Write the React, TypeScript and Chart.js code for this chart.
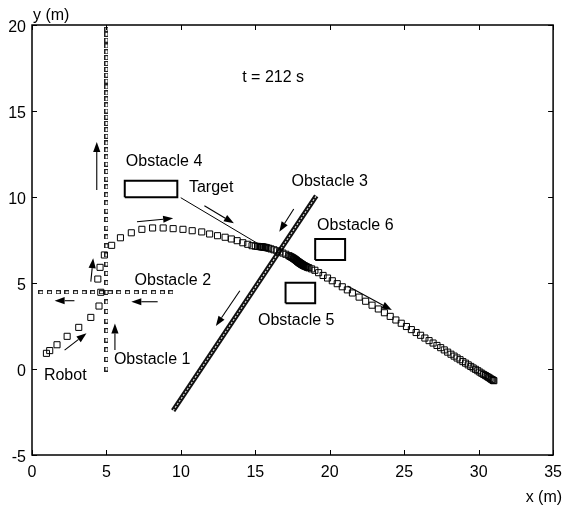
import React, { useEffect, useRef } from 'react';
import { Chart, registerables } from 'chart.js';

Chart.register(...registerables);

// ---- axes ----
const xMin = 0, xMax = 35, xStep = 5;
const yMin = -5, yMax = 20, yStep = 5;
const xTitle = 'x (m)';
const yTitle = 'y (m)';
const timeLabel = 't = 212 s';

// ---- robot trajectory (big squares) ----
const robotX = [0.97, 1.19, 1.68, 2.36, 3.14, 3.95, 4.5, 4.62, 4.42, 4.57, 4.86, 5.35, 5.94, 6.67, 7.38, 8.1, 8.81, 9.48, 10.14, 10.76, 11.4, 11.93, 12.46, 12.97, 13.39, 13.78, 14.16, 14.49, 14.78,
  15.0, 15.15, 15.27, 15.35, 15.41, 15.47, 15.53, 15.6, 15.68, 15.77, 15.9, 16.05, 16.25, 16.45, 16.65, 16.85, 17.05, 17.25, 17.33, 17.4, 17.46, 17.52, 17.57, 17.62, 17.67, 17.72, 17.76, 17.8, 17.84, 17.88,
  17.92, 17.95, 17.99, 18.02, 18.06, 18.09, 18.13, 18.16, 18.2, 18.24, 18.28, 18.33, 18.39, 18.45, 18.52, 18.6, 18.78,
  19.0, 19.25, 19.55, 19.85, 20.17, 20.5, 20.84, 21.18, 21.52, 21.97, 22.41, 22.84, 23.26, 23.67, 24.06, 24.44, 24.8, 25.15, 25.48, 25.8, 26.1, 26.39, 26.67, 26.94, 27.2, 27.45, 27.69, 27.92, 28.14,
  28.35, 28.55, 28.75, 28.94, 29.12, 29.3, 29.47, 29.63, 29.79, 29.94, 30.08, 30.21, 30.34, 30.46, 30.57, 30.67, 30.76, 30.84, 30.91, 30.97, 31.02];
const robotY = [0.91, 1.07, 1.41, 1.9, 2.42, 3.0, 3.66, 4.46, 5.23, 5.91, 6.63, 7.19, 7.63, 7.92, 8.12, 8.2, 8.2, 8.16, 8.12, 8.04, 7.97, 7.85, 7.75, 7.66, 7.56, 7.46, 7.34, 7.25, 7.17,
  7.14, 7.13, 7.12, 7.11, 7.1, 7.1, 7.09, 7.08, 7.07, 7.05, 7.02, 6.98, 6.93, 6.87, 6.81, 6.74, 6.67, 6.59, 6.55, 6.52, 6.49, 6.46, 6.43, 6.4, 6.37, 6.34, 6.31, 6.28, 6.25, 6.23,
  6.2, 6.18, 6.16, 6.14, 6.12, 6.1, 6.08, 6.06, 6.04, 6.02, 6.0, 5.98, 5.96, 5.93, 5.9, 5.88, 5.82,
  5.74, 5.6, 5.44, 5.29, 5.13, 4.96, 4.78, 4.6, 4.42, 4.18, 3.94, 3.71, 3.49, 3.27, 3.06, 2.85, 2.66, 2.47, 2.29, 2.12, 1.96, 1.8, 1.65, 1.51, 1.37, 1.24, 1.11, 0.98, 0.86,
  0.75, 0.64, 0.54, 0.43, 0.34, 0.24, 0.15, 0.06, -0.02, -0.1, -0.18, -0.25, -0.32, -0.38, -0.44, -0.49, -0.54, -0.59, -0.62, -0.66, -0.68];

// ---- obstacle 1 (vertical, x = 5) ----
const obs1X = 5;
const obs1Y = [0, 0.56, 1.12, 1.68, 2.23, 2.79, 3.35, 3.9, 4.46, 5.02, 5.56, 6.1, 6.63, 7.16, 7.68, 8.19, 8.69, 9.18, 9.66, 10.13, 10.59, 11.04, 11.48, 11.91, 12.33, 12.74, 13.14, 13.53, 13.91, 14.28, 14.64, 15.0, 15.35, 15.7, 16.05, 16.4, 16.74, 17.08, 17.42, 17.76, 18.1, 18.44, 18.78, 19.12, 19.46, 19.75];

// ---- obstacle 2 (horizontal, y = 4.46) ----
const obs2Y = 4.46;
const obs2X = [0.6, 1.18, 1.76, 2.35, 2.93, 3.5, 4.08, 4.67, 5.25, 5.83, 6.42, 7.0, 7.58, 8.17, 8.75, 9.33];

// ---- obstacle 3 (diagonal track) ----
const obs3X = [9.48, 19.09];
const obs3Y = [-2.42, 10.06];

// ---- rectangular obstacles [x0, x1, y0, y1] ----
const obs4Box = [6.23, 9.76, 9.98, 10.95];
const obs5Box = [17.03, 19.02, 3.82, 5.02];
const obs6Box = [19.02, 21.03, 6.34, 7.56];

// ---- target pointer line ----
const targetLineX = [9.99, 15.33];
const targetLineY = [9.96, 7.21];

// ---- arrows ----
const arrowFromX = [2.19, 3.95, 2.85, 8.44, 5.57, 4.35, 7.05, 11.58, 17.58, 13.96, 21.19];
const arrowFromY = [1.1, 5.08, 3.97, 3.91, 1.1, 10.41, 8.56, 9.49, 9.3, 4.55, 4.83];
const arrowToX = [3.66, 4.11, 1.52, 6.67, 5.57, 4.35, 9.48, 13.56, 16.61, 12.35, 24.17];
const arrowToY = [2.08, 6.44, 3.97, 3.91, 2.65, 13.2, 8.76, 8.47, 7.98, 2.5, 3.43];

// ---- text labels ----
const labelTexts = ['Obstacle 4', 'Target', 'Obstacle 3', 'Obstacle 6', 'Obstacle 2', 'Obstacle 5', 'Obstacle 1', 'Robot'];
const labelX = [6.3, 10.54, 17.43, 19.15, 6.89, 15.18, 5.5, 0.8];
const labelY = [12.03, 10.52, 10.87, 8.31, 5.12, 2.79, 0.52, -0.41];
const timeLabelPos = [14.12, 16.92];

const FONT = '16px "Liberation Sans", Arial, Helvetica, sans-serif';

function boxPoly(b: number[]) {
  return [
    { x: b[0], y: b[2] }, { x: b[1], y: b[2] }, { x: b[1], y: b[3] }, { x: b[0], y: b[3] }, { x: b[0], y: b[2] },
  ];
}

function rectImage(w: number, h: number) {
  const c = document.createElement('canvas');
  c.width = w; c.height = h;
  const g = c.getContext('2d')!;
  g.strokeStyle = '#222';
  g.lineWidth = 1;
  g.strokeRect(0.5, 0.5, w - 1, h - 1);
  return c;
}

const overlay = {
  id: 'overlay',
  afterDatasetsDraw(chart: any) {
    const { ctx, chartArea: a, scales } = chart;
    const sx = scales.x, sy = scales.y;
    ctx.save();
    // arrows
    ctx.strokeStyle = '#000';
    ctx.fillStyle = '#000';
    ctx.lineWidth = 1.1;
    for (let i = 0; i < arrowFromX.length; i++) {
      const x1 = sx.getPixelForValue(arrowFromX[i]);
      const y1 = sy.getPixelForValue(arrowFromY[i]);
      const x2 = sx.getPixelForValue(arrowToX[i]);
      const y2 = sy.getPixelForValue(arrowToY[i]);
      const ang = Math.atan2(y2 - y1, x2 - x1);
      const hl = 10, hw = 3.6;
      const c = Math.cos(ang), s = Math.sin(ang);
      const bx = x2 - hl * c, by = y2 - hl * s;
      ctx.beginPath();
      ctx.moveTo(x1, y1);
      ctx.lineTo(bx, by);
      ctx.stroke();
      ctx.beginPath();
      ctx.moveTo(x2, y2);
      ctx.lineTo(bx - hw * s, by + hw * c);
      ctx.lineTo(bx + hw * s, by - hw * c);
      ctx.closePath();
      ctx.fill();
    }
    // labels
    ctx.font = FONT;
    ctx.fillStyle = '#000';
    ctx.textAlign = 'left';
    ctx.textBaseline = 'middle';
    for (let i = 0; i < labelTexts.length; i++) {
      ctx.fillText(labelTexts[i], sx.getPixelForValue(labelX[i]), sy.getPixelForValue(labelY[i]));
    }
    ctx.fillText(timeLabel, sx.getPixelForValue(timeLabelPos[0]), sy.getPixelForValue(timeLabelPos[1]));
    // axis titles
    ctx.textBaseline = 'alphabetic';
    ctx.textAlign = 'left';
    ctx.fillText(yTitle, a.left + 1, a.top - 5);
    ctx.textAlign = 'right';
    ctx.fillText(xTitle, a.right + 9, a.bottom + 47);
    // frame
    ctx.strokeStyle = '#000';
    ctx.lineWidth = 1.5;
    ctx.strokeRect(a.left, a.top, a.right - a.left, a.bottom - a.top);
    ctx.lineWidth = 1;
    const tl = 5;
    ctx.beginPath();
    for (const t of sx.ticks) {
      const px = Math.round(sx.getPixelForValue(t.value)) + 0.5;
      ctx.moveTo(px, a.bottom); ctx.lineTo(px, a.bottom - tl);
      ctx.moveTo(px, a.top); ctx.lineTo(px, a.top + tl);
    }
    for (const t of sy.ticks) {
      const py = Math.round(sy.getPixelForValue(t.value)) + 0.5;
      ctx.moveTo(a.left, py); ctx.lineTo(a.left + tl, py);
      ctx.moveTo(a.right, py); ctx.lineTo(a.right - tl, py);
    }
    ctx.stroke();
    ctx.restore();
  },
};

export default function App() {
  const ref = useRef<HTMLCanvasElement | null>(null);
  useEffect(() => {
    if (!ref.current) return;
    const obs1Img = rectImage(4, 5);
    const obs2Img = rectImage(5, 4);
    const robotData = robotX.map((x, i) => ({ x, y: robotY[i] }));
    const obs1Data = obs1Y.map((y) => ({ x: obs1X, y }));
    const obs2Data = obs2X.map((x) => ({ x, y: obs2Y }));
    const obs3Data = obs3X.map((x, i) => ({ x, y: obs3Y[i] }));
    const targetData = targetLineX.map((x, i) => ({ x, y: targetLineY[i] }));
    const lineDs = (data: any[], extra: any = {}) => ({
      type: 'line',
      data,
      showLine: true,
      borderColor: '#000',
      borderWidth: 2,
      pointRadius: 0,
      fill: false,
      tension: 0,
      ...extra,
    });
    // Chart.js paints the last dataset first, so the topmost layer comes first here.
    const chart = new Chart(ref.current, {
      type: 'scatter',
      data: {
        datasets: [
          {
            data: robotData,
            pointStyle: 'rect',
            pointRadius: 4.3,
            borderColor: '#000',
            borderWidth: 1,
            backgroundColor: 'rgba(0,0,0,0)',
            showLine: false,
          },
          {
            data: obs2Data,
            pointStyle: obs2Img as any,
            pointRadius: 3,
            showLine: false,
          },
          {
            data: obs1Data,
            pointStyle: obs1Img as any,
            pointRadius: 3,
            showLine: false,
          },
          lineDs(targetData, { borderWidth: 1 }) as any,
          lineDs(boxPoly(obs6Box)) as any,
          lineDs(boxPoly(obs5Box)) as any,
          lineDs(boxPoly(obs4Box)) as any,
          lineDs(obs3Data, { borderWidth: 1.2, borderColor: 'rgba(255,255,255,0.85)', borderDash: [2, 1.6] }) as any,
          lineDs(obs3Data, { borderWidth: 5, borderCapStyle: 'butt', borderColor: '#111' }) as any,
        ],
      },
      options: {
        animation: false,
        responsive: false,
        devicePixelRatio: 1,
        events: [],
        layout: { padding: { top: 25, right: 10, left: 0, bottom: 0 } },
        plugins: { legend: { display: false }, tooltip: { enabled: false } },
        scales: {
          x: {
            type: 'linear',
            min: xMin,
            max: xMax,
            ticks: { stepSize: xStep, color: '#000', font: { family: '"Liberation Sans", Arial, sans-serif', size: 16 }, padding: 8, maxRotation: 0 },
            grid: { display: false, drawTicks: false },
            border: { display: false },
            afterFit: (s: any) => { s.height = 57; },
          },
          y: {
            type: 'linear',
            min: yMin,
            max: yMax,
            ticks: { stepSize: yStep, color: '#000', font: { family: '"Liberation Sans", Arial, sans-serif', size: 16 }, padding: 6, labelOffset: 3 },
            grid: { display: false, drawTicks: false },
            border: { display: false },
            afterFit: (s: any) => { s.width = 32; },
          },
        },
      } as any,
      plugins: [overlay],
    });
    return () => chart.destroy();
  }, []);
  return (
    <div style={{ position: 'fixed', left: 0, top: 0, width: 570, height: 512, background: '#fff' }}>
      <canvas ref={ref} width={570} height={512} style={{ display: 'block' }} />
    </div>
  );
}
